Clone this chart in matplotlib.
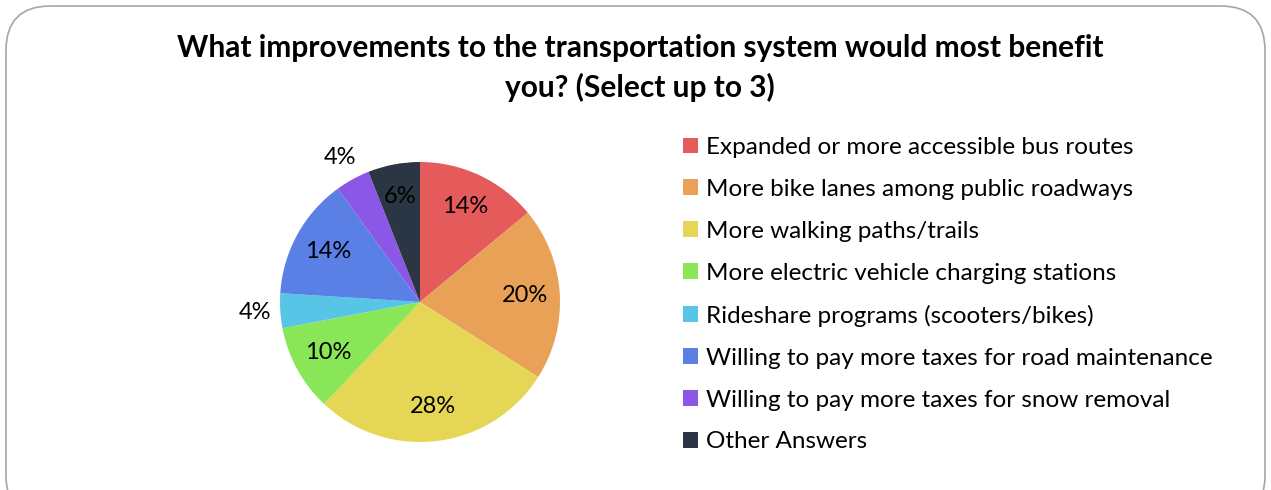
import matplotlib
matplotlib.use("Agg")
import matplotlib.pyplot as plt
import numpy as np
from matplotlib.patches import FancyBboxPatch

categories = [
    "Expanded or more accessible bus routes",
    "More bike lanes among public roadways",
    "More walking paths/trails",
    "More electric vehicle charging stations",
    "Rideshare programs (scooters/bikes)",
    "Willing to pay more taxes for road maintenance",
    "Willing to pay more taxes for snow removal",
    "Other Answers",
]
values = [14, 20, 28, 10, 4, 14, 4, 6]
colors = ["#E55A5A", "#E8A157", "#E5D755", "#88E657", "#57C6E6", "#5A80E6", "#8A57E6", "#2A3643"]
title = "What improvements to the transportation system would most benefit\nyou? (Select up to 3)"

plt.rcParams['font.family'] = ['Lato', 'DejaVu Sans']

W, H = 1271, 490
fig = plt.figure(figsize=(W / 100, H / 100), dpi=100)
fig.patch.set_facecolor("white")

# rounded border
border = FancyBboxPatch((6 / W, -30 / H), (W - 12) / W, (H - 6 + 30) / H,
                        boxstyle="round,pad=0,rounding_size=0.035",
                        transform=fig.transFigure, facecolor="none",
                        edgecolor="#A6A6A6", linewidth=1.2, mutation_aspect=W / H,
                        zorder=-1)
fig.patches.append(border)

fig.text(640 / W, 1 - 68 / H, title, ha="center", va="center",
         fontsize=21.5, fontweight="bold", linespacing=1.45)

cx, cy, r = 420, 302, 140
ax = fig.add_axes([(cx - r) / W, (H - cy - r) / H, 2 * r / W, 2 * r / H])
wedges, _ = ax.pie(values, colors=colors, startangle=90, counterclock=False,
                   radius=1.0, wedgeprops=dict(linewidth=0))
ax.set_xlim(-1, 1)
ax.set_ylim(-1, 1)
ax.set_aspect("equal")
ax.axis("off")

for w, v in zip(wedges, values):
    ang = np.deg2rad((w.theta1 + w.theta2) / 2)
    if v <= 4:
        d = 1.18
    elif v == 6:
        d = 0.77
    else:
        d = 0.75
    ax.text(d * np.cos(ang), d * np.sin(ang), f"{v}%", ha="center", va="center",
            fontsize=17, color="black", clip_on=False)

leg = fig.legend(wedges, categories, loc="upper left",
                 bbox_to_anchor=(683 / W, 1 - 137 / H), frameon=False,
                 fontsize=17.5, handlelength=0.62, handleheight=0.62,
                 handletextpad=0.33, labelspacing=0.86, borderaxespad=0,
                 borderpad=0)

fig.savefig("out.png", dpi=100)
